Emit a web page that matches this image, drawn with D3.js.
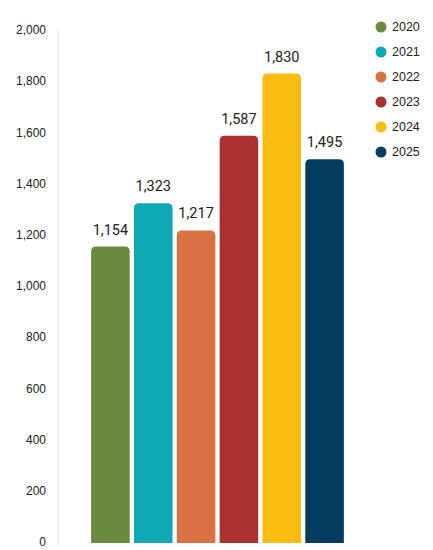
<!DOCTYPE html>
<html><head><meta charset="utf-8">
<script src="https://cdn.jsdelivr.net/npm/d3@7"></script>
<style>body{margin:0;background:#fff}svg{display:block}</style>
</head><body>
<svg id="c" width="433" height="550"></svg>
<script>
const categories = ["2020","2021","2022","2023","2024","2025"];
const values = [1154,1323,1217,1587,1830,1495];
const colors = ["#6a8a3f","#0ea9b5","#d97142","#a93130","#fbbc12","#023c60"];
const yTicks = [0,200,400,600,800,1000,1200,1400,1600,1800,2000];

const svg = d3.select("#c");
const y = d3.scaleLinear().domain([0,2000]).range([542,30]);
const x = d3.scaleBand().domain(categories).range([89,346]).paddingInner(0.1).paddingOuter(0.05);
const fmt = d3.format(",");

svg.append("line").attr("x1",58).attr("x2",58).attr("y1",30).attr("y2",545)
  .attr("stroke","#dedede").attr("stroke-width",1);

svg.append("g").selectAll("text").data(yTicks).join("text")
  .attr("x",46).attr("y",d=>y(d)).attr("dy","0.35em").attr("text-anchor","end")
  .attr("font-family","Liberation Sans, Arial, sans-serif").attr("font-size",12).attr("fill","#222")
  .text(d=>fmt(d));

const r = 5;
svg.append("g").selectAll("path").data(categories).join("path")
  .attr("fill",(d,i)=>colors[i])
  .attr("d",(d,i)=>{
    const x0 = x(d), w = x.bandwidth(), t = y(values[i]), b = y(0)+1;
    return `M${x0},${b}V${t+r}Q${x0},${t} ${x0+r},${t}H${x0+w-r}Q${x0+w},${t} ${x0+w},${t+r}V${b}Z`;
  });

svg.append("g").selectAll("text").data(categories).join("text")
  .attr("x",d=>x(d)+x.bandwidth()/2).attr("y",(d,i)=>y(values[i])-12)
  .attr("text-anchor","middle")
  .attr("font-family","Roboto, sans-serif").attr("font-size",14.5).attr("fill","#222")
  .text((d,i)=>fmt(values[i]));

const lg = svg.append("g").selectAll("g").data(categories).join("g")
  .attr("transform",(d,i)=>`translate(381,${27+i*25})`);
lg.append("circle").attr("r",5.5).attr("fill",(d,i)=>colors[i]);
lg.append("text").attr("x",11).attr("dy","0.35em")
  .attr("font-family","Liberation Sans, Arial, sans-serif").attr("font-size",12.5).attr("fill","#222")
  .text(d=>d);
</script>
</body></html>
